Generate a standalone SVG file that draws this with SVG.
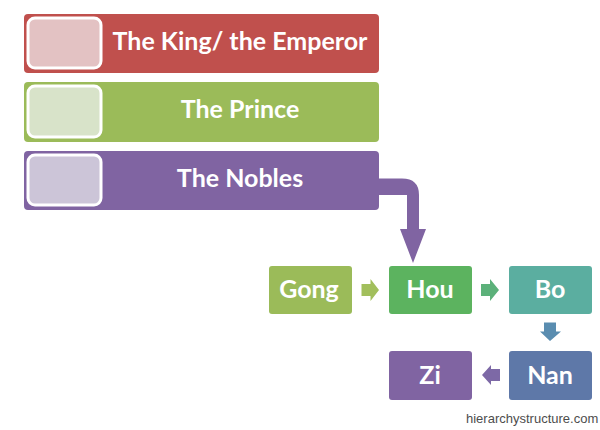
<svg xmlns="http://www.w3.org/2000/svg" width="600" height="430" viewBox="0 0 600 430">
<style>
  .lbl { font-family: Lato, "Open Sans", "Liberation Sans", sans-serif; font-weight: bold; font-size: 25px; fill: #ffffff; text-anchor: middle; }
  .inner { stroke: #ffffff; stroke-width: 3; }
  .wm { font-family: "Liberation Sans", Arial, sans-serif; font-size: 13px; fill: #4d4d4d; }
</style>
<rect width="600" height="430" fill="#ffffff"/>
<g id="king">
  <rect x="24" y="14" width="355" height="59" rx="4" fill="#C0504D"/>
  <rect x="28" y="18" width="73" height="50" rx="7" fill="#E3C2C3" class="inner"/>
  <text x="240" y="50" class="lbl">The King/ the Emperor</text>
</g>
<g id="prince">
  <rect x="24" y="82" width="355" height="60" rx="4" fill="#9BBB59"/>
  <rect x="28" y="86" width="73" height="51" rx="7" fill="#D8E3C9" class="inner"/>
  <text x="240" y="118" class="lbl">The Prince</text>
</g>
<g id="nobles">
  <rect x="24" y="151" width="355" height="59" rx="4" fill="#8064A2"/>
  <rect x="28" y="155" width="73" height="50" rx="7" fill="#CCC5D8" class="inner"/>
  <text x="240" y="187" class="lbl">The Nobles</text>
</g>
<g id="gong">
  <rect x="269" y="266" width="83" height="48" rx="3" fill="#9BBB59"/>
  <text x="309" y="298" class="lbl">Gong</text>
</g>
<g id="hou">
  <rect x="389" y="266" width="83" height="48" rx="3" fill="#5CB35F"/>
  <text x="430" y="298" class="lbl">Hou</text>
</g>
<g id="bo">
  <rect x="509" y="266" width="83" height="48" rx="3" fill="#5BAEA0"/>
  <text x="550" y="298" class="lbl">Bo</text>
</g>
<g id="nan">
  <rect x="509" y="351" width="83" height="49" rx="3" fill="#5E78A8"/>
  <text x="550" y="384" class="lbl">Nan</text>
</g>
<g id="zi">
  <rect x="389" y="351" width="83" height="49" rx="3" fill="#8064A2"/>
  <text x="430" y="384" class="lbl">Zi</text>
</g>
<g id="connectors">
  <path d="M376 178.5 L402 178.5 Q419 178.5 419 195 L419 229 L426 229 L413 263 L400 229 L407 229 L407 195 L376 195 Z" fill="#8064A2"/>
  <path d="M361.5 284 L370.5 284 L370.5 279 L379 290 L370.5 301 L370.5 296 L361.5 296 Z" fill="#A2BF5C"/>
  <path d="M481 284 L490 284 L490 279 L499 290 L490 301 L490 296 L481 296 Z" fill="#5CB17A"/>
  <path d="M544 322.5 L556 322.5 L556 331.5 L561 331.5 L550 341 L540 331.5 L544 331.5 Z" fill="#5A8DB0"/>
  <path d="M500 369 L491 369 L491 365 L482 375 L491 385 L491 381 L500 381 Z" fill="#7D69A6"/>
</g>
<text x="466" y="423" class="wm">hierarchystructure.com</text>
</svg>
